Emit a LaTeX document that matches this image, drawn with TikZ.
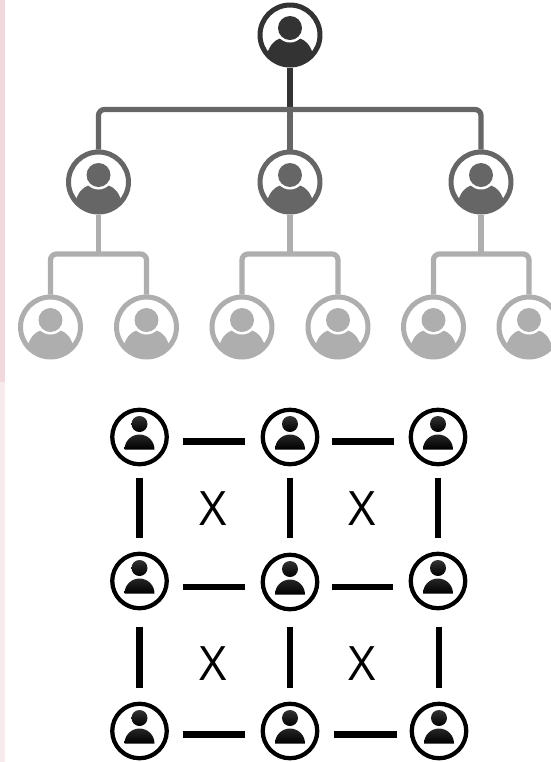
\documentclass[tikz,border=0pt]{standalone}
\usepackage{fontspec}
\setsansfont{Open Sans}
\newcommand{\orgicon}[1]{%
	\begin{scope}[shift={(path picture bounding box.center)}]
		\fill[#1] (-23,19) .. controls (-20,10) and (-16,5.5) .. (-10,3.5) -- (10,3.5) .. controls (16,5.5) and (20,10) .. (23,19) -- (30,40) -- (-30,40) -- cycle;
		\fill[white] (0,-7) circle[radius=14.5];
		\fill[#1] (0,-7) circle[radius=12];
	\end{scope}}
\newcommand{\gridicon}{%
	\begin{scope}[shift={(path picture bounding box.center)}]
		\shade[top color=black!80,bottom color=black] (0,-13) ++(-8,0) arc[start angle=180,delta angle=360,radius=8];
		\shade[top color=black!85,bottom color=black] (-15,12.5) arc[start angle=180,delta angle=180,radius=15] -- cycle;
	\end{scope}}
\tikzset{
	orgnode/.style={circle,draw=#1,fill=white,line width=0.1cm,minimum size=1.2cm,inner sep=0pt,path picture={\orgicon{#1}}},
	gridnode/.style={circle,draw=black,fill=white,line width=0.085cm,minimum size=1.09cm,inner sep=0pt,path picture={\gridicon}},
	orglink/.style={draw=#1,line width=0.105cm,rounded corners=0.12cm},
	gridlink/.style={draw=black,line width=0.125cm},
	crossmark/.style={font=\sffamily\fontsize{27}{27}\selectfont,inner sep=0pt}
}
\definecolor{topgray}{HTML}{333333}
\definecolor{midgray}{HTML}{666666}
\definecolor{leafgray}{HTML}{AEAEAE}
\definecolor{stripdark}{HTML}{F0D8DC}
\definecolor{striplight}{HTML}{F8EBEE}
\begin{document}
\begin{tikzpicture}[x=0.02cm,y=-0.02cm]
	\useasboundingbox (0,0) rectangle (551,762);

	% Pink strip down the left edge
	\fill[stripdark] (0,0) rectangle (5,382);
	\fill[striplight] (0,382) rectangle (5,762);

	% Org chart nodes
	\node[orgnode=topgray] (root) at (290,35) {};
	\node[orgnode=midgray] (mida) at (98.5,182) {};
	\node[orgnode=midgray] (midb) at (290,182) {};
	\node[orgnode=midgray] (midc) at (481,182) {};
	\node[orgnode=leafgray] (leafa) at (50.5,327) {};
	\node[orgnode=leafgray] (leafb) at (146.5,327) {};
	\node[orgnode=leafgray] (leafc) at (242,327) {};
	\node[orgnode=leafgray] (leafd) at (338,327) {};
	\node[orgnode=leafgray] (leafe) at (433.5,327) {};
	\node[orgnode=leafgray] (leaff) at (529,327) {};

	% Branch points of the org chart
	\coordinate (barroot) at (290,109.5);
	\coordinate (bara) at (98.5,254);
	\coordinate (barb) at (290,254);
	\coordinate (barc) at (481,254);

	% Root down to the middle row
	\draw[orglink=topgray] (root.south) -- (barroot);
	\draw[orglink=midgray] (barroot) -- (midb.north);
	\draw[orglink=midgray] (mida.north) |- (barroot) -| (midc.north);

	% Middle row down to the leaves
	\draw[orglink=leafgray] (mida.south) -- (bara);
	\draw[orglink=leafgray] (leafa.north) |- (bara) -| (leafb.north);
	\draw[orglink=leafgray] (midb.south) -- (barb);
	\draw[orglink=leafgray] (leafc.north) |- (barb) -| (leafd.north);
	\draw[orglink=leafgray] (midc.south) -- (barc);
	\draw[orglink=leafgray] (leafe.north) |- (barc) -| (leaff.north);

	% Grid nodes
	\node[gridnode] (gaa) at (139.5,437) {};
	\node[gridnode] (gab) at (290,437) {};
	\node[gridnode] (gac) at (438,437) {};
	\node[gridnode] (gba) at (139.5,581) {};
	\node[gridnode] (gbb) at (290,582) {};
	\node[gridnode] (gbc) at (438,581) {};
	\node[gridnode] (gca) at (139.5,731) {};
	\node[gridnode] (gcb) at (290,731) {};
	\node[gridnode] (gcc) at (439,731) {};

	% Horizontal grid links
	\draw[gridlink] ([shift={(14,4.5)}]gaa.east) -- ([shift={(-16,4.5)}]gab.west);
	\draw[gridlink] ([shift={(13,4.5)}]gab.east) -- ([shift={(-15,4.5)}]gac.west);
	\draw[gridlink] ([shift={(14,6)}]gba.east) -- ([shift={(-16,5)}]gbb.west);
	\draw[gridlink] ([shift={(13,5)}]gbb.east) -- ([shift={(-16,6)}]gbc.west);
	\draw[gridlink] ([shift={(14,3.5)}]gca.east) -- ([shift={(-16,3.5)}]gcb.west);
	\draw[gridlink] ([shift={(15,3.5)}]gcb.east) -- ([shift={(-13,3.5)}]gcc.west);

	% Vertical grid links
	\draw[gridlink] ([yshift=-0.23cm]gaa.south) -- ([yshift=0.27cm]gba.north);
	\draw[gridlink] ([yshift=-0.23cm]gab.south) -- ([yshift=0.29cm]gbb.north);
	\draw[gridlink] ([yshift=-0.23cm]gac.south) -- ([yshift=0.27cm]gbc.north);
	\draw[gridlink] ([yshift=-0.33cm]gba.south) -- ([yshift=0.27cm]gca.north);
	\draw[gridlink] ([yshift=-0.31cm]gbb.south) -- ([yshift=0.27cm]gcb.north);
	\draw[gridlink] ([shift={(1,16.5)}]gbc.south) -- ([yshift=0.27cm]gcc.north);

	% Crosses between the grid links
	\node[crossmark] (xa) at (213.5,509) {X};
	\node[crossmark] (xb) at (362.5,509) {X};
	\node[crossmark] (xc) at (213.5,664) {X};
	\node[crossmark] (xd) at (362.5,664) {X};
\end{tikzpicture}
\end{document}
